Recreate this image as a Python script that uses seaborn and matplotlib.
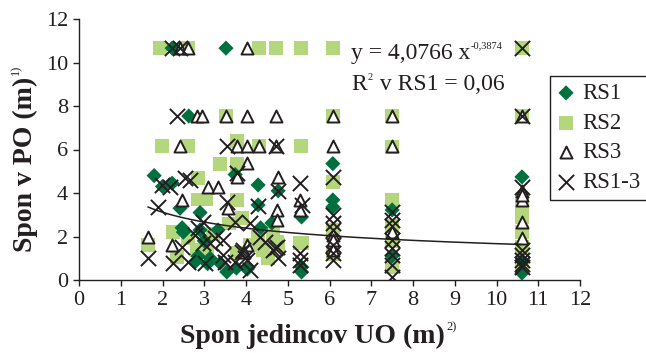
import matplotlib
matplotlib.use("Agg")
import matplotlib.pyplot as plt
from matplotlib.transforms import IdentityTransform
import numpy as np
import pandas as pd
import seaborn as sns

# Spacing of individuals (x, m) vs. spacing in PO (y, m), by stand
rs1_x = [2.23, 3.52, 2.63, 1.80, 2.00, 2.23, 2.42, 2.47, 2.90, 2.90, 2.85, 2.78, 3.08,
         3.38, 3.54, 3.14, 3.33, 3.74, 4.29, 4.29, 4.62, 4.03, 3.77, 4.77, 5.33, 5.33,
         5.33, 6.08, 6.08, 6.08, 7.50, 7.50, 10.61, 10.61, 10.61, 4.35, 3.00, 2.50]
rs1_y = [10.66, 10.66, 7.54, 4.80, 4.30, 4.45, 3.30, 2.40, 3.10, 2.30, 1.10, 0.83, 0.75,
         0.78, 0.37, 1.00, 2.30, 4.85, 4.37, 3.45, 2.62, 0.50, 0.55, 4.10, 2.90, 0.37,
         0.60, 5.35, 3.68, 3.36, 3.22, 1.10, 4.74, 0.90, 0.32, 2.40, 1.80, 2.20]

rs2_x = [1.94, 2.61, 4.31, 4.72, 5.32, 6.08, 10.61, 3.52, 6.08, 7.50, 10.61, 1.98, 2.61,
         3.79, 4.31, 5.32, 7.50, 3.38, 3.79, 2.85, 2.85, 3.05, 3.78, 3.90, 2.61, 2.35,
         4.29, 4.53, 4.77, 5.29, 6.08, 7.50, 7.50, 7.50, 10.61, 10.61, 10.61, 10.61, 1.65,
         2.25, 2.82, 3.07, 3.78, 4.41, 4.65, 4.74, 5.34, 3.60, 3.20, 4.10, 6.08, 6.08,
         10.61, 10.61, 7.50]
rs2_y = [10.66, 10.66, 10.66, 10.66, 10.66, 10.66, 10.66, 7.54, 7.54, 7.54, 7.54, 6.16,
         6.16, 6.40, 6.16, 6.16, 6.10, 5.33, 5.33, 4.70, 3.70, 3.70, 3.68, 2.85, 1.93,
         1.06, 1.98, 1.01, 1.61, 1.70, 4.50, 3.68, 2.50, 0.60, 3.36, 2.90, 1.50, 0.60,
         1.60, 2.20, 1.38, 1.29, 1.24, 1.38, 2.16, 1.75, 1.70, 2.60, 2.10, 1.60, 2.30,
         1.20, 3.70, 2.20, 1.80]

rs3_x = [2.42, 2.61, 4.02, 2.83, 2.95, 3.52, 4.02, 4.72, 6.08, 7.50, 10.61, 2.42, 3.79,
         4.02, 4.31, 4.72, 6.08, 7.50, 4.02, 3.09, 3.33, 3.78, 2.47, 3.57, 4.77, 4.74,
         4.74, 5.29, 5.29, 1.65, 2.23, 6.08, 6.08, 6.08, 7.50, 10.61, 10.61, 10.61, 10.61,
         4.02, 3.95, 10.61]
rs3_y = [10.66, 10.66, 10.66, 7.54, 7.54, 7.54, 7.54, 7.54, 7.54, 7.54, 7.54, 6.16, 6.16,
         6.16, 6.16, 6.16, 6.16, 6.16, 5.38, 4.28, 4.28, 4.74, 3.68, 3.31, 4.74, 3.22,
         2.76, 3.68, 3.22, 1.98, 1.61, 2.07, 1.84, 1.38, 2.21, 4.10, 3.68, 2.67, 1.93,
         1.61, 1.30, 3.90]

rs13_x = [2.23, 2.42, 10.61, 2.35, 10.61, 3.55, 4.72, 1.99, 2.54, 2.18, 2.66, 1.89, 2.78,
          1.65, 2.25, 2.47, 2.61, 3.02, 3.54, 2.85, 2.97, 3.78, 4.29, 3.74, 4.10, 3.26,
          4.46, 3.90, 3.98, 3.74, 3.45, 4.69, 4.77, 5.29, 5.34, 5.29, 5.29, 4.77, 4.65,
          2.97, 3.14, 3.45, 3.50, 3.93, 4.02, 4.10, 4.34, 4.74, 5.29,
          6.08, 6.08, 6.08, 6.08, 6.08, 6.08, 6.08,
          7.50, 7.50, 7.50, 7.50, 7.50, 7.50, 7.50, 7.50,
          10.61, 10.61, 10.61, 10.61, 10.61, 10.61]
rs13_y = [10.66, 10.66, 10.66, 7.54, 7.54, 6.16, 6.16, 4.37, 4.69, 4.28, 4.60, 3.36, 2.07,
          1.01, 0.80, 1.52, 0.83, 0.78, 3.59, 2.39, 2.67, 4.90, 3.40, 2.67, 2.62, 1.93,
          1.75, 1.29, 1.01, 0.83, 1.15, 1.47, 4.10, 4.46, 3.45, 1.24, 0.69, 1.01, 1.38,
          1.70, 1.70, 1.84, 0.83, 1.38, 0.92, 0.46, 1.98, 1.52, 0.92,
          4.74, 2.99, 2.62, 2.30, 1.61, 1.24, 0.92,
          3.13, 2.76, 2.50, 1.84, 1.47, 1.15, 0.69, 0.14,
          4.28, 1.38, 1.15, 0.92, 0.60, 0.75]

series_names = ["RS1", "RS2", "RS3", "RS1-3"]

# Power trendline fitted on RS1: y = a * x^b
fit_a = 4.0766
fit_b = -0.3874
fit_a_text = "4,0766"
fit_b_text = "-0,3874"
fit_r2_text = "0,06"

x_ticks = list(range(0, 13, 1))
y_ticks = list(range(0, 13, 2))

x_title, x_title_sup = "Spon jedincov UO (m)", "2)"
y_title, y_title_sup = "Spon v PO (m)", "1)"

DARK_GREEN = "#00703f"
LIGHT_GREEN = "#b4d67c"
INK = "#231f20"
W, H = 646, 353

sns.set_theme(style="white")
plt.rcParams["font.family"] = ["Liberation Serif", "DejaVu Serif"]
plt.rcParams["text.color"] = INK

fig = plt.figure(figsize=(W / 100, H / 100), dpi=100)
ax = fig.add_axes([79 / W, 1 - 280 / H, 501 / W, 261 / H])

df1 = pd.DataFrame({"x": rs1_x, "y": rs1_y})
df2 = pd.DataFrame({"x": rs2_x, "y": rs2_y})
df3 = pd.DataFrame({"x": rs3_x, "y": rs3_y})
df13 = pd.DataFrame({"x": rs13_x, "y": rs13_y})

sns.scatterplot(data=df2, x="x", y="y", ax=ax, marker="s", s=100, color=LIGHT_GREEN,
                edgecolor="none", linewidth=0, label=series_names[1], zorder=2)
sns.scatterplot(data=df1, x="x", y="y", ax=ax, marker="D", s=60, color=DARK_GREEN,
                edgecolor="none", linewidth=0, label=series_names[0], zorder=3)
sns.scatterplot(data=df3, x="x", y="y", ax=ax, marker="^", s=75, color="white",
                edgecolor=INK, linewidth=1.4, label=series_names[2], zorder=4)
sns.scatterplot(data=df13, x="x", y="y", ax=ax, marker="x", s=120, color=INK,
                linewidth=1.4, label=series_names[3], zorder=5)

# Trendline over the range of the data
all_x = rs1_x + rs2_x + rs3_x + rs13_x
curve_x = np.linspace(min(all_x), max(all_x), 200)
curve = pd.DataFrame({"x": curve_x, "y": fit_a * curve_x ** fit_b})
sns.lineplot(data=curve, x="x", y="y", ax=ax, color=INK, linewidth=1.1, zorder=6,
             legend=False)

ax.set_xlim(0, 12)
ax.set_ylim(0, 12)
ax.set_xticks(x_ticks)
ax.set_yticks(y_ticks)
ax.set_xlabel("")
ax.set_ylabel("")
sns.despine(ax=ax)
for sp in ("left", "bottom"):
    ax.spines[sp].set_color(INK)
    ax.spines[sp].set_linewidth(1.0)
ax.tick_params(axis="both", direction="out", length=4, width=1, colors=INK,
               labelsize=16, pad=4, bottom=True, left=True)

px = IdentityTransform()

def sup_after(main, text, size, raise_px, gap_px=1.5, vertical=False):
    """Place a small superscript just after the end of a text artist."""
    fig.canvas.draw()
    bb = main.get_window_extent()
    bx, by = main.get_transform().transform(main.get_position())
    if vertical:
        return fig.text(bx - raise_px, bb.y1 + gap_px, text, transform=px, fontsize=size,
                        rotation=90, rotation_mode="anchor", ha="left", va="baseline",
                        color=INK)
    return fig.text(bb.x1 + gap_px, by + raise_px, text, transform=px, fontsize=size,
                    ha="left", va="baseline", color=INK)

# Axis titles
xt = fig.text(180, H - 343, x_title, transform=px, fontsize=20, fontweight="bold",
              ha="left", va="baseline", color=INK)
sup_after(xt, x_title_sup, 9, 13)
yt = fig.text(32, H - 252, y_title, transform=px, fontsize=20, fontweight="bold",
              rotation=90, rotation_mode="anchor", ha="left", va="baseline", color=INK)
sup_after(yt, y_title_sup, 9, 13, vertical=True)

# Trendline equation
eq = ax.text(6.52, 10.15, f"y = {fit_a_text} x", fontsize=17, color=INK,
             ha="left", va="baseline", zorder=7)
sup_after(eq, fit_b_text, 7.5, 11, gap_px=0.5)
r2 = ax.text(6.52, 8.75, "R", fontsize=17, color=INK, ha="left", va="baseline", zorder=7)
r2s = sup_after(r2, "2", 7.5, 10, gap_px=1)
fig.canvas.draw()
sb = r2s.get_window_extent()
fig.text(sb.x1 + 1, ax.transData.transform((6.52, 8.75))[1], f" v RS1 = {fit_r2_text}",
         transform=px, fontsize=17, ha="left", va="baseline", color=INK)

handles, labels = ax.get_legend_handles_labels()
order = [labels.index(n) for n in series_names]
leg = ax.legend([handles[i] for i in order], [labels[i] for i in order],
                loc="upper left", bbox_to_anchor=(550 / W, 1 - 76 / H),
                bbox_transform=fig.transFigure, fontsize=16.5, frameon=True,
                fancybox=False, edgecolor=INK, framealpha=1, borderaxespad=0,
                handlelength=0.8, handletextpad=0.3, labelspacing=0.38,
                borderpad=0.3)
leg.get_frame().set_linewidth(1.0)

fig.savefig("out.png", dpi=100)
